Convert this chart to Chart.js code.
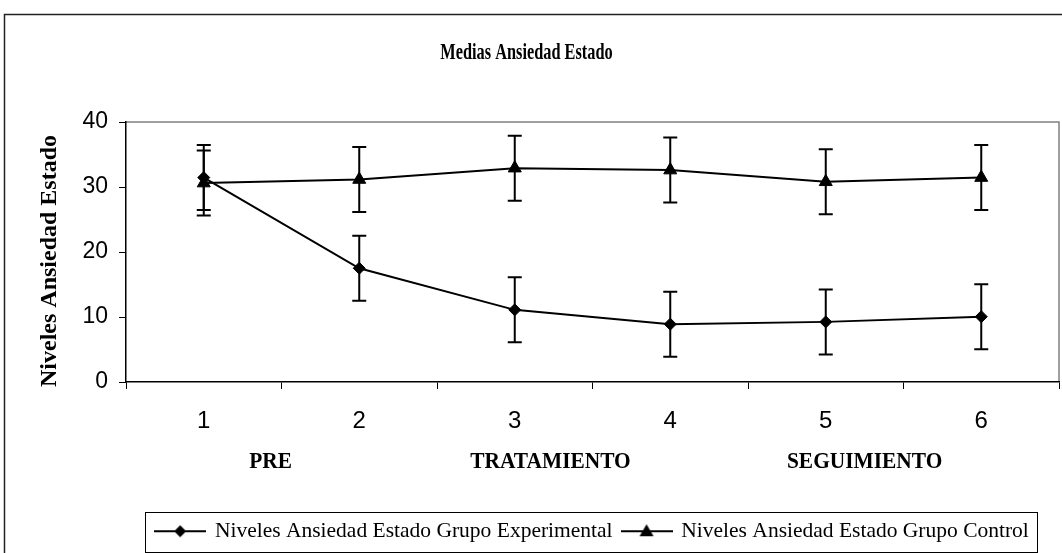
<!DOCTYPE html>
<html>
<head>
<meta charset="utf-8">
<script src="https://cdn.jsdelivr.net/npm/chart.js@4.4.1/dist/chart.umd.min.js"></script>
<style>
  html, body { margin: 0; padding: 0; background: #fff; overflow: hidden; }
  #wrap { position: relative; width: 1062px; height: 553px; overflow: hidden; }
</style>
</head>
<body>
<div id="wrap"><canvas id="chart" width="1096" height="553"></canvas></div>
<script>
// values
const sessions = ['1', '2', '3', '4', '5', '6'];
const phaseLabels = ['PRE', 'TRATAMIENTO', 'SEGUIMIENTO'];
const phaseAt = [0.43, 2.23, 4.25]; // category position of each phase label

const expLabel = 'Niveles Ansiedad Estado Grupo Experimental';
const expMeans = [31.45, 17.5, 11.1, 8.9, 9.25, 10.05];
const expErr = [5, 5, 5, 5, 5, 5];

const ctrlLabel = 'Niveles Ansiedad Estado Grupo Control';
const ctrlMeans = [30.6, 31.15, 32.9, 32.6, 30.8, 31.45];
const ctrlErr = [5, 5, 5, 5, 5, 5];

const chartTitle = 'Medias Ansiedad Estado';
const yTitle = 'Niveles Ansiedad Estado';
const yMin = 0;
const yMax = 40;
const yStep = 10;

const SERIF = "'Liberation Serif', 'Times New Roman', serif";
const SANS = "'Liberation Sans', Arial, sans-serif";

// legend icon: short line with the marker in the middle
function makeIcon(style) {
  const c = document.createElement('canvas');
  c.width = 52;
  c.height = 18;
  const ctx = c.getContext('2d');
  ctx.strokeStyle = '#000';
  ctx.fillStyle = '#000';
  ctx.lineWidth = 2;
  ctx.beginPath();
  ctx.moveTo(0, 9);
  ctx.lineTo(52, 9);
  ctx.stroke();
  ctx.beginPath();
  if (style === 'diamond') {
    ctx.moveTo(26, 3);
    ctx.lineTo(32, 9);
    ctx.lineTo(26, 15);
    ctx.lineTo(20, 9);
  } else {
    ctx.moveTo(26, 2);
    ctx.lineTo(33, 14);
    ctx.lineTo(19, 14);
  }
  ctx.closePath();
  ctx.fill();
  return c;
}
const legendIcons = [makeIcon('diamond'), makeIcon('triangle')];

const errorBars = {
  id: 'errorBars',
  afterDatasetsDraw(chart) {
    const { ctx } = chart;
    const y = chart.scales.y;
    const errs = [expErr, ctrlErr];
    chart.data.datasets.forEach((ds, i) => {
      const meta = chart.getDatasetMeta(i);
      meta.data.forEach((pt, j) => {
        const v = ds.data[j];
        const top = y.getPixelForValue(v + errs[i][j]);
        const bot = y.getPixelForValue(v - errs[i][j]);
        ctx.save();
        ctx.strokeStyle = '#000';
        ctx.lineWidth = 2;
        ctx.beginPath();
        ctx.moveTo(pt.x, top);
        ctx.lineTo(pt.x, bot);
        ctx.moveTo(pt.x - 7, top);
        ctx.lineTo(pt.x + 7, top);
        ctx.moveTo(pt.x - 7, bot);
        ctx.lineTo(pt.x + 7, bot);
        ctx.stroke();
        ctx.restore();
      });
    });
  },
};

// narrow bold text, like the squeezed titles of the original
function squeezedText(ctx, text, x, y, size, squeeze) {
  ctx.save();
  ctx.font = 'bold ' + size + 'px ' + SERIF;
  ctx.textAlign = 'center';
  ctx.textBaseline = 'middle';
  ctx.fillStyle = '#000';
  ctx.translate(x, y);
  ctx.scale(squeeze, 1);
  ctx.fillText(text, 0, 0);
  ctx.restore();
}

const frame = {
  id: 'frame',
  beforeDraw(chart) {
    const { ctx, chartArea: a } = chart;
    ctx.save();
    ctx.fillStyle = '#fff';
    ctx.fillRect(0, 0, chart.width, chart.height);
    // outer chart border (right/bottom fall outside the picture)
    ctx.strokeStyle = '#222';
    ctx.lineWidth = 1.5;
    ctx.strokeRect(4.5, 14.5, 2000, 2000);
    // plot area border, grey on top and right
    ctx.strokeStyle = '#808080';
    ctx.lineWidth = 1.5;
    ctx.beginPath();
    ctx.moveTo(a.left, a.top);
    ctx.lineTo(a.right, a.top);
    ctx.lineTo(a.right, a.bottom);
    ctx.stroke();
    ctx.restore();
  },
  afterDraw(chart) {
    const { ctx, chartArea: a } = chart;
    const x = chart.scales.x;
    squeezedText(ctx, chartTitle, (a.left + a.right) / 2 - 66, a.top - 69, 24, 0.68);
    phaseLabels.forEach((t, i) => {
      squeezedText(ctx, t, x.getPixelForValue(phaseAt[i]), x.top + 80, 23, 0.93);
    });
    // legend box
    const boxes = chart.legend.legendHitBoxes;
    const l = Math.min(...boxes.map((b) => b.left));
    const r = Math.max(...boxes.map((b) => b.left + b.width));
    const t = Math.min(...boxes.map((b) => b.top));
    const b = Math.max(...boxes.map((bx) => bx.top + bx.height));
    ctx.save();
    ctx.strokeStyle = '#000';
    ctx.lineWidth = 1;
    ctx.strokeRect(Math.round(l - 11) + 0.5, Math.round(t - 9) + 0.5, Math.round(r - l + 19), Math.round(b - t + 18));
    ctx.restore();
  },
};

new Chart(document.getElementById('chart'), {
  type: 'line',
  plugins: [frame, errorBars],
  options: {
    responsive: false,
    animation: false,
    devicePixelRatio: 1,
    layout: {
      padding: { left: 0, right: 37, top: 122, bottom: 1 },
    },
    plugins: {
      title: { display: false },
      legend: {
        display: true,
        position: 'bottom',
        fullSize: false,
        labels: {
          usePointStyle: true,
          pointStyleWidth: 48,
          padding: 10,
          color: '#000',
          font: { family: SERIF, size: 21.5 },
          generateLabels: (chart) =>
            chart.data.datasets.map((ds, i) => ({
              text: ds.label,
              datasetIndex: i,
              pointStyle: legendIcons[i],
              fillStyle: '#000',
              strokeStyle: '#000',
              lineWidth: 0,
              hidden: false,
              fontColor: '#000',
            })),
        },
      },
      tooltip: { enabled: false },
    },
    scales: {
      x: {
        offset: true,
        afterFit: (scale) => {
          scale.height = 128.5;
        },
        grid: {
          display: true,
          offset: true,
          drawOnChartArea: false,
          drawTicks: true,
          tickLength: 7,
          color: '#000',
        },
        border: { display: true, color: '#000', width: 1.5 },
        ticks: {
          color: '#000',
          padding: 18,
          maxRotation: 0,
          font: { family: SANS, size: 24 },
        },
      },
      y: {
        min: yMin,
        max: yMax,
        afterFit: (scale) => {
          scale.width = 126;
        },
        grid: {
          display: true,
          drawOnChartArea: false,
          drawTicks: true,
          tickLength: 7,
          color: '#000',
        },
        border: { display: true, color: '#000', width: 1.5 },
        ticks: {
          stepSize: yStep,
          color: '#000',
          padding: 11,
          font: { family: SANS, size: 23 },
        },
        title: {
          display: true,
          text: yTitle + '   ',
          color: '#000',
          font: { family: SERIF, size: 24, weight: 'bold' },
          padding: { top: 35, bottom: 0 },
        },
      },
    },
  },
  data: {
    labels: sessions,
    datasets: [
      {
        label: expLabel,
        data: expMeans,
        borderColor: '#000',
        borderWidth: 2,
        tension: 0,
        fill: false,
        pointStyle: 'rectRot',
        pointRadius: 6,
        pointBorderWidth: 1,
        pointBackgroundColor: '#000',
        pointBorderColor: '#000',
      },
      {
        label: ctrlLabel,
        data: ctrlMeans,
        borderColor: '#000',
        borderWidth: 2,
        tension: 0,
        fill: false,
        pointStyle: 'triangle',
        pointRadius: 7.5,
        pointBorderWidth: 1,
        pointBackgroundColor: '#000',
        pointBorderColor: '#000',
      },
    ],
  },
});
</script>
</body>
</html>
